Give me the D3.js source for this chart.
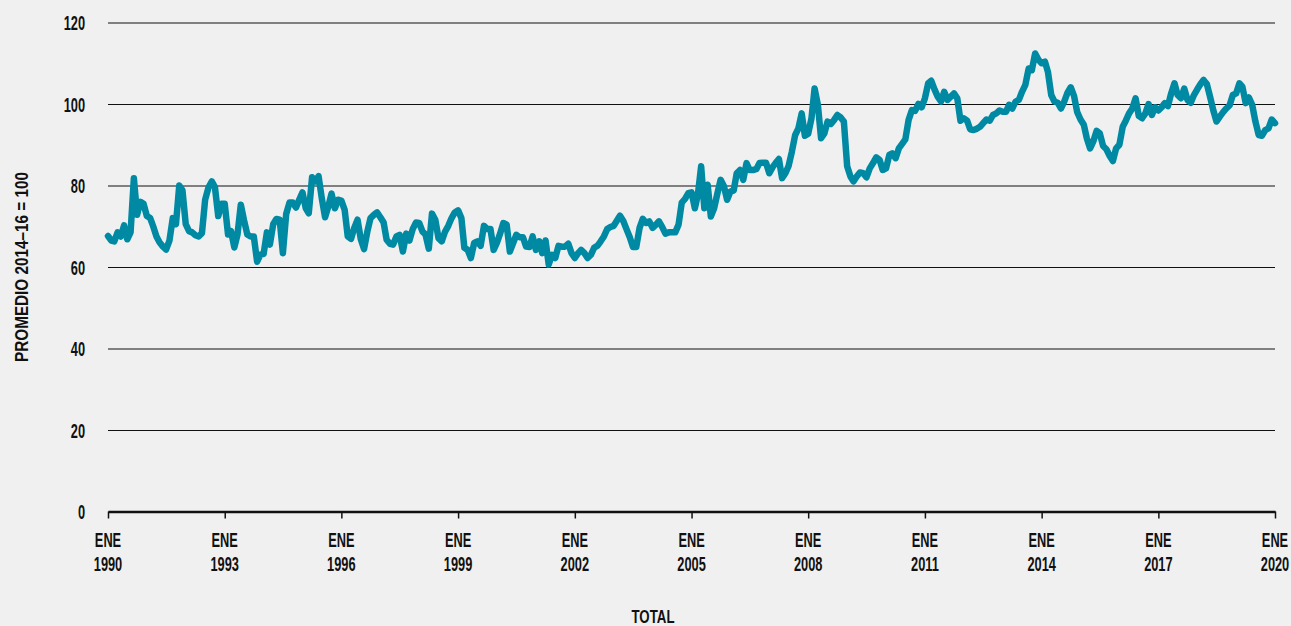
<!DOCTYPE html>
<html>
<head>
<meta charset="utf-8">
<script src="https://cdn.jsdelivr.net/npm/d3@7"></script>
<style>
  html, body { margin: 0; padding: 0; background: #f0f0f0; }
  svg { display: block; }
  text { font-family: "Liberation Sans", Arial, sans-serif; fill: #111; }
</style>
</head>
<body>
<svg id="chart" width="1291" height="626"></svg>
<script>
// Monthly index, average 2014–16 = 100. Each array starts in January of its first year.
const index1990s = [
  67.6, 66.5, 66.3, 68.5, 67.5, 70.2, 66.8, 68.5, 81.8, 72.8, 76.0, 75.5,
  72.5, 72.0, 70.0, 67.5, 66.0, 65.0, 64.3, 66.5, 72.0, 70.5, 80.0, 78.8,
  70.5, 68.8, 68.5, 67.8, 67.5, 68.3, 76.5, 79.5, 81.0, 79.6, 72.5, 75.5,
  75.5, 68.0, 68.8, 64.8, 68.0, 75.3, 71.5, 68.0, 67.5, 67.5, 61.3, 63.0,
  63.2, 68.5, 65.5, 70.5, 71.8, 71.6, 63.4, 73.0, 75.8, 75.8, 74.6, 76.5,
  78.3, 74.4, 73.2, 82.0, 81.0, 82.3, 76.9, 72.2, 74.9, 78.0, 74.4, 76.5,
  76.3, 74.0, 67.5, 66.9, 69.6, 71.6, 66.9, 64.4, 68.7, 72.0, 72.8, 73.4,
  72.2, 70.9, 66.7, 65.7, 65.5, 67.5, 67.9, 63.8, 68.2, 66.5, 69.3, 70.9,
  70.8, 68.7, 68.0, 64.5, 73.1, 71.6, 67.1, 66.3, 68.7, 70.1, 72.0, 73.4,
  73.9, 72.0, 64.7, 64.2, 62.2, 65.9, 66.3, 65.2, 70.1, 69.3, 69.3, 64.2
];
const index2000s = [
  66.0, 68.3, 70.8, 70.4, 63.8, 65.9, 67.9, 67.3, 67.3, 65.0, 64.9, 67.5,
  64.2, 66.3, 63.4, 66.5, 60.6, 63.0, 62.2, 65.2, 65.0, 65.0, 65.7, 63.4,
  62.2, 63.4, 64.2, 63.4, 62.2, 63.0, 64.7, 65.2, 66.3, 67.5, 69.3, 69.8,
  70.1, 71.4, 72.6, 71.3, 69.3, 67.3, 64.9, 64.9, 69.6, 71.8, 70.8, 71.2,
  69.6, 70.4, 71.2, 69.8, 68.2, 68.5, 68.5, 68.5, 70.4, 75.8, 76.7, 78.1,
  78.3, 74.4, 77.7, 84.7, 74.4, 80.2, 72.4, 74.4, 78.1, 81.4, 79.8, 76.5,
  78.5, 78.8, 83.0, 83.8, 81.4, 85.5, 83.8, 83.8, 84.0, 85.5, 85.6, 85.6,
  83.0, 84.5, 85.5, 86.5, 81.8, 83.0, 84.8, 88.3, 92.4, 94.0, 97.7, 92.2,
  92.7, 96.5, 103.8, 99.8, 91.6, 92.8, 95.7, 95.1, 96.1, 97.3, 96.7, 95.7,
  84.7, 82.2, 81.0, 82.2, 83.2, 83.0, 82.0, 84.2, 85.5, 86.9, 86.3, 83.8
];
const index2010s = [
  84.2, 87.5, 87.9, 86.7, 89.1, 90.2, 91.3, 96.1, 98.5, 98.3, 100.0, 99.2,
  101.4, 105.1, 105.7, 103.6, 101.8, 100.6, 103.0, 101.0, 101.8, 102.6, 101.4, 95.9,
  96.5, 95.9, 93.8, 93.6, 93.9, 94.4, 95.3, 96.2, 95.9, 97.3, 97.7, 98.4,
  98.1, 98.1, 99.8, 98.9, 100.6, 101.0, 103.0, 104.7, 108.7, 108.3, 112.4, 110.9,
  110.0, 110.4, 107.9, 102.2, 100.6, 100.3, 98.9, 100.6, 102.8, 104.1, 102.0, 98.0,
  96.2, 94.9, 91.6, 89.1, 90.8, 93.4, 92.8, 89.7, 88.9, 87.3, 86.0, 89.1,
  90.0, 94.4, 95.9, 97.7, 98.9, 101.4, 97.1, 96.5, 97.7, 100.0, 97.3, 99.2,
  98.4, 99.2, 100.2, 99.5, 102.6, 105.1, 102.2, 101.4, 103.8, 101.0, 100.3, 102.2,
  103.6, 104.9, 105.9, 104.9, 101.8, 98.4, 95.7, 96.9, 98.0, 98.9, 99.7, 102.2,
  102.6, 105.1, 104.2, 100.2, 101.6, 99.8, 95.7, 92.4, 92.2, 93.6, 94.0, 96.2,
  95.3
];

const tickYears = [1990, 1993, 1996, 1999, 2002, 2005, 2008, 2011, 2014, 2017, 2020];
const monthLabel = "ENE";
const yTicks = [0, 20, 40, 60, 80, 100, 120];
const yTitle = "PROMEDIO 2014–16 = 100";
const seriesTitle = "TOTAL";

// Build month-stamped points from the three decade arrays
const values = index1990s.concat(index2000s, index2010s);
const data = values.map((v, i) => ({ date: new Date(Date.UTC(1990, i, 1)), value: v }));

const svg = d3.select("#chart");
const plot = { left: 108, right: 1275, top: 22.5, bottom: 511.5 };
const SQUEEZE = 0.64; // horizontal squeeze for the condensed lettering

const x = d3.scaleUtc()
  .domain([new Date(Date.UTC(1990, 0, 1)), new Date(Date.UTC(2020, 0, 1))])
  .range([plot.left, plot.right]);

const y = d3.scaleLinear()
  .domain([0, 120])
  .range([plot.bottom, plot.top]);

// Condensed label helper: squeezes glyphs horizontally around the anchor point
function label(parent, px, py, str, opts = {}) {
  return parent.append("text")
    .attr("transform", `translate(${px},${py}) scale(${opts.sx ?? SQUEEZE},1)`)
    .attr("text-anchor", opts.anchor ?? "middle")
    .attr("font-size", opts.size ?? 20)
    .attr("font-weight", opts.weight ?? "bold")
    .attr("dy", opts.dy ?? 0)
    .text(str);
}

// Horizontal gridlines
const yAxis = svg.append("g")
  .attr("transform", `translate(${plot.left},0)`)
  .call(d3.axisLeft(y).tickValues(yTicks.filter(d => d > 0))
    .tickSize(-(plot.right - plot.left)).tickFormat(""));
yAxis.select(".domain").remove();
yAxis.selectAll(".tick line").attr("stroke", "#111").attr("stroke-width", 1);

// Value labels
const yLabels = svg.append("g");
yTicks.forEach(t => label(yLabels, 85, y(t) + 0.5, d3.format("d")(t), { anchor: "end", dy: "0.36em" }));

// Time axis with baseline
const xAxis = svg.append("g")
  .attr("transform", `translate(0,${plot.bottom})`)
  .call(d3.axisBottom(x)
    .tickValues(tickYears.map(yr => new Date(Date.UTC(yr, 0, 1))))
    .tickSize(7).tickSizeOuter(0).tickFormat(""));
xAxis.select(".domain").attr("stroke", "#111").attr("stroke-width", 2.5);
xAxis.selectAll(".tick line").attr("stroke", "#111").attr("stroke-width", 1.5);

const xLabels = svg.append("g");
tickYears.forEach(yr => {
  const px = x(new Date(Date.UTC(yr, 0, 1)));
  label(xLabels, px, 547, monthLabel);
  label(xLabels, px, 570.5, String(yr));
});

// Index line
const line = d3.line()
  .x(d => x(d.date))
  .y(d => y(d.value));

svg.append("path")
  .datum(data)
  .attr("fill", "none")
  .attr("stroke", "#0089a3")
  .attr("stroke-width", 6.5)
  .attr("stroke-linejoin", "round")
  .attr("stroke-linecap", "round")
  .attr("d", line);

// Axis titles
svg.append("text")
  .attr("transform", "translate(28,267) rotate(-90)")
  .attr("text-anchor", "middle")
  .attr("font-size", 19)
  .attr("font-weight", "bold")
  .attr("textLength", 190)
  .attr("lengthAdjust", "spacingAndGlyphs")
  .text(yTitle);

svg.append("text")
  .attr("x", 653)
  .attr("y", 623)
  .attr("text-anchor", "middle")
  .attr("font-size", 19)
  .attr("font-weight", "bold")
  .attr("textLength", 43)
  .attr("lengthAdjust", "spacingAndGlyphs")
  .text(seriesTitle);
</script>
</body>
</html>
